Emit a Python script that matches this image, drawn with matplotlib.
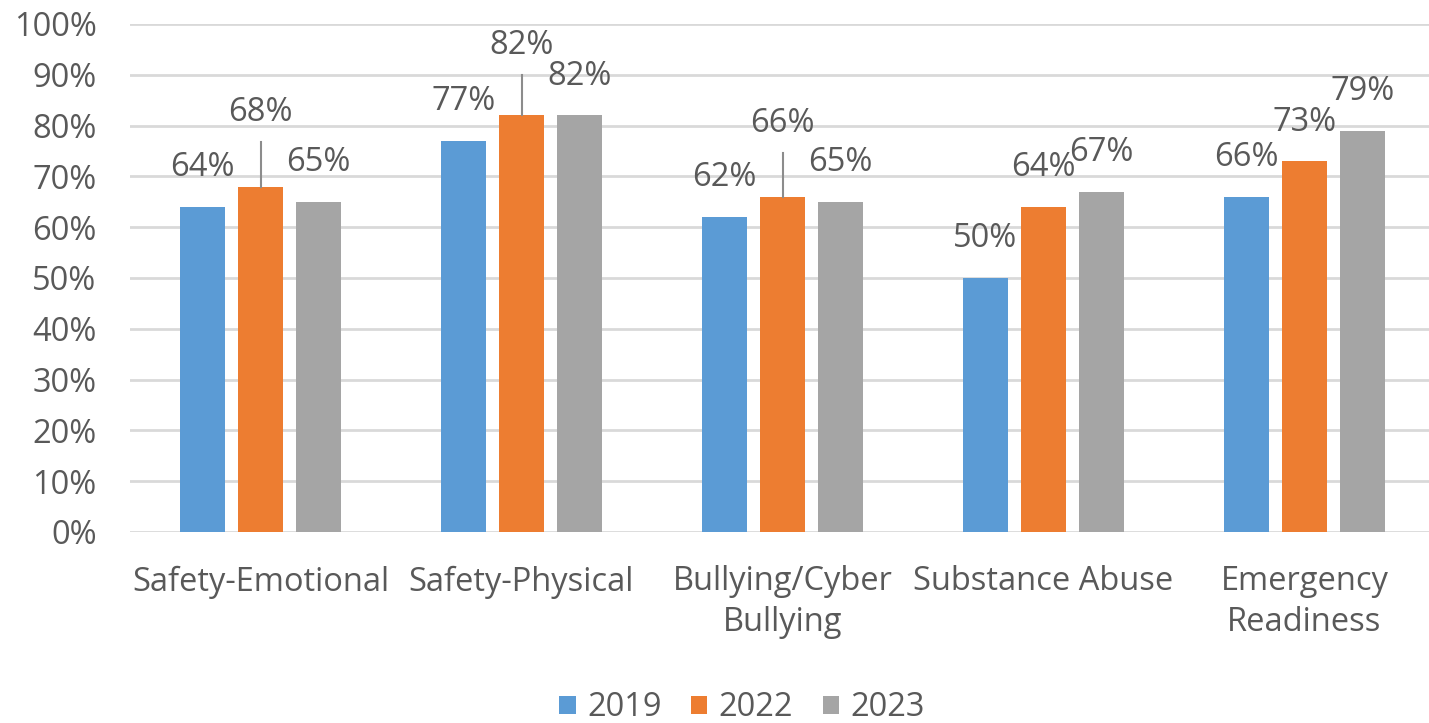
import matplotlib.pyplot as plt
import numpy as np

# datos del grafico
categorias = ['Safety-Emotional', 'Safety-Physical', 'Bullying/Cyber\nBullying',
              'Substance Abuse', 'Emergency\nReadiness']
anios = ['2019', '2022', '2023']
v2019 = [64, 77, 62, 50, 66]
v2022 = [68, 82, 66, 64, 73]
v2023 = [65, 82, 65, 67, 79]

colores = ['#5B9BD5', '#ED7D31', '#A5A5A5']
gris_texto = '#595959'
tam = 23.5

plt.rcParams['font.family'] = ['Open Sans', 'DejaVu Sans']

fig = plt.figure(figsize=(14.29, 7.23), dpi=100)
ax = fig.add_axes([130 / 1429, 191 / 723, 1 - 130 / 1429, 508 / 723])

x = np.arange(len(categorias))
ancho = 0.172
paso = 0.222
series = [v2019, v2022, v2023]

for j, (vals, col, an) in enumerate(zip(series, colores, anios)):
    pos = x + (j - 1) * paso
    ax.bar(pos, vals, width=ancho, color=col, label=an, zorder=2)
    for i, v in enumerate(vals):
        # etiquetas con linea guia en la serie 2022 de los tres primeros grupos
        if j == 1 and i in (0, 1, 2):
            sube = 14.5 if i != 1 else 13.7
            ax.plot([pos[i], pos[i]], [v, v + sube - 5.8], color='#8C8C8C',
                    linewidth=1.5, zorder=3)
        else:
            sube = 7.7
        ax.text(pos[i], v + sube, '{}%'.format(v), ha='center', va='center',
                fontsize=tam, color=gris_texto, zorder=4)

ax.set_ylim(0, 100)
ax.set_xlim(-0.5, (1429 - 130) / 261 - 0.5)
ax.set_yticks(np.arange(0, 101, 10))
ax.set_yticklabels(['{}%'.format(t) for t in range(0, 101, 10)])
ax.set_xticks(x)
ax.set_xticklabels(categorias, linespacing=1.3)
ax.tick_params(axis='both', length=0, labelsize=tam, colors=gris_texto)
ax.tick_params(axis='y', pad=24)
ax.tick_params(axis='x', pad=24)
ax.yaxis.grid(True, color='#D9D9D9', linewidth=2, zorder=0)
ax.set_axisbelow(True)
for s in ax.spines.values():
    s.set_visible(False)

leg = fig.legend(loc='center', bbox_to_anchor=(742 / 1429, 15 / 723), ncol=3,
                 frameon=False, fontsize=tam, handlelength=0.5, handleheight=0.5,
                 handletextpad=0.35, columnspacing=0.9, borderpad=0.1)
for t in leg.get_texts():
    t.set_color(gris_texto)

fig.savefig('out.png', dpi=100)
